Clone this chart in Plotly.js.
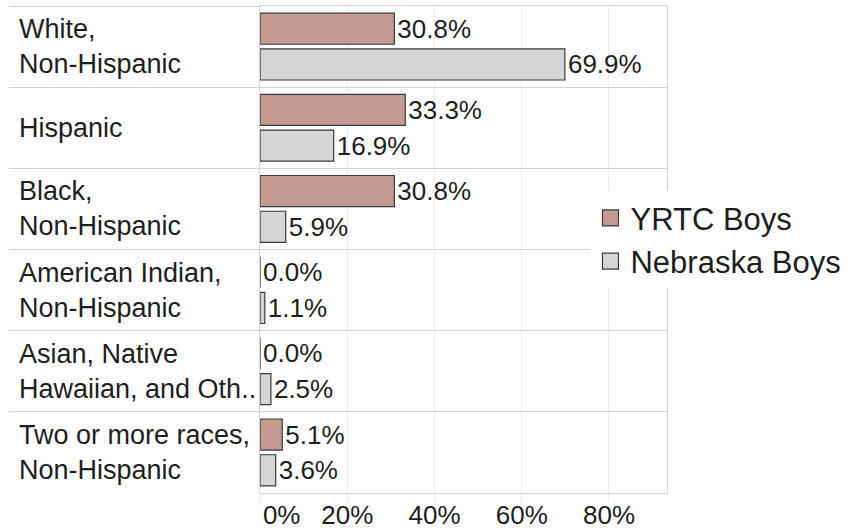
<!DOCTYPE html>
<html>
<head>
<meta charset="utf-8">
<script src="https://cdn.plot.ly/plotly-3.0.1.min.js"></script>
<style>
  body { margin: 0; background: #fff; }
  #graph { width: 852px; height: 531px; }
</style>
</head>
<body>
<div id="graph"></div>
<script>
let CATEGORIES = ["White,<br>Non-Hispanic", "Hispanic", "Black,<br>Non-Hispanic",
  "American Indian,<br>Non-Hispanic", "Asian, Native<br>Hawaiian, and Oth..",
  "Two or more races,<br>Non-Hispanic"]
let YRTC_BOYS = [30.8, 33.3, 30.8, 0.0, 0.0, 5.1]
let NEBRASKA_BOYS = [69.9, 16.9, 5.9, 1.1, 2.5, 3.6]
let TICK_VALS = [0, 20, 40, 60, 80]
let TICK_TEXT = ["\u00a0\u00a0\u00a0\u00a0\u00a0\u00a00%", "20%", "40%", "60%", "80%"]

let FONT = "Liberation Sans, Arial, sans-serif"
let TEXT_COLOR = "#1e1e1e"

function make_bar(name, values, color) {
  return {
    type: "bar",
    orientation: "h",
    name: name,
    x: values,
    y: CATEGORIES,
    marker: { color: color, line: { color: "#3a3a3a", width: 1.2 } },
    text: values.map(v => v.toFixed(1) + "%"),
    textposition: "outside",
    textfont: { family: FONT, size: 26, color: TEXT_COLOR },
    constraintext: "none",
    cliponaxis: false,
    showlegend: false,
    hoverinfo: "skip"
  }
}

function make_legend_item(name, color) {
  return {
    type: "scatter",
    mode: "markers",
    name: name,
    x: [null],
    y: [null],
    marker: { symbol: "square", size: 20, color: color, line: { color: "#3a3a3a", width: 1.2 } }
  }
}

let data = [
  make_bar("YRTC Boys", YRTC_BOYS, "#c49b93"),
  make_bar("Nebraska Boys", NEBRASKA_BOYS, "#d5d5d5"),
  make_legend_item("YRTC Boys", "#c49b93"),
  make_legend_item("Nebraska Boys", "#d5d5d5")
]

let annotations = CATEGORIES.map(c => ({
  x: -0.596, xref: "paper", xanchor: "left",
  y: c, yref: "y", yanchor: "middle",
  text: c, showarrow: false, align: "left",
  font: { family: FONT, size: 27, color: TEXT_COLOR }
}))

let layout = {
  width: 852,
  height: 531,
  margin: { l: 260, r: 184, t: 6, b: 38 },
  paper_bgcolor: "#fff",
  plot_bgcolor: "#fff",
  font: { family: FONT, color: TEXT_COLOR },
  barmode: "group",
  bargap: 0.12,
  bargroupgap: 0.13,
  showlegend: true,
  legend: {
    x: 0.81, xanchor: "left",
    y: 0.52, yanchor: "middle",
    bgcolor: "#fff",
    font: { family: FONT, size: 31, color: TEXT_COLOR },
    itemclick: false
  },
  xaxis: {
    range: [0, 93.3],
    tickvals: TICK_VALS,
    ticktext: TICK_TEXT,
    tickfont: { family: FONT, size: 26, color: TEXT_COLOR },
    showgrid: true,
    gridcolor: "#ececec",
    zeroline: false,
    ticks: "outside",
    ticklen: 8,
    tickcolor: "#ececec",
    ticklabelstandoff: -9,
    showline: true,
    linecolor: "#d4d4d4",
    mirror: true,
    fixedrange: true
  },
  yaxis: {
    type: "category",
    autorange: "reversed",
    showticklabels: false,
    tickson: "boundaries",
    ticks: "outside",
    ticklen: 250,
    tickcolor: "#d4d4d4",
    showgrid: true,
    gridcolor: "#d4d4d4",
    showline: true,
    linecolor: "#d4d4d4",
    mirror: true,
    fixedrange: true
  },
  annotations: annotations
}

Plotly.newPlot("graph", data, layout, { displayModeBar: false, staticPlot: true })
</script>
</body>
</html>
